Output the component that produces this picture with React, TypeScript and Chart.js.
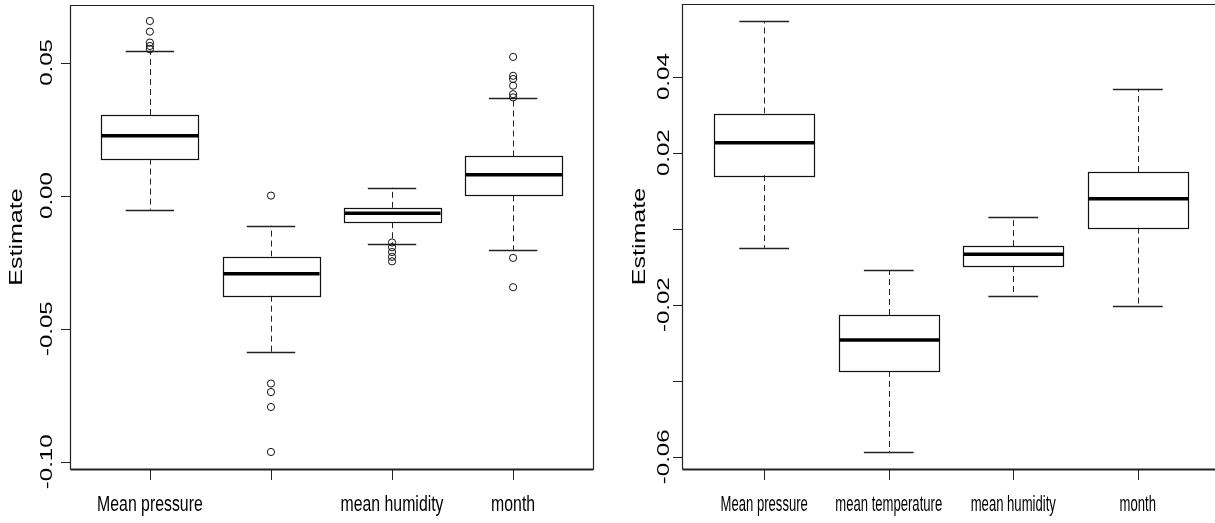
import { useEffect, useRef } from 'react';
import { Chart, registerables } from 'chart.js';
Chart.register(...registerables);

// ---------- Left panel data ----------
const leftCategories = ['Mean pressure', '', 'mean humidity', 'month'];
const leftLowerWhisker = [-0.0053, -0.0588, -0.018, -0.0205];
const leftQ1 = [0.0139, -0.0376, -0.01, 0.0001];
const leftMedian = [0.0225, -0.0294, -0.0066, 0.0078];
const leftQ3 = [0.0303, -0.0229, -0.0046, 0.0147];
const leftUpperWhisker = [0.0545, -0.0113, 0.003, 0.0365];
const leftOutlierGroup = [1, 1, 1, 1, 1, 2, 2, 2, 2, 2, 3, 3, 3, 3, 3, 4, 4, 4, 4, 4, 4, 4, 4];
const leftOutlierValue = [
  0.0656, 0.0616, 0.0575, 0.0562, 0.055,
  0.0, -0.0706, -0.0738, -0.0794, -0.0963,
  -0.0176, -0.0194, -0.0212, -0.023, -0.0247,
  0.0521, 0.045, 0.0438, 0.0413, 0.0381, 0.0369, -0.0234, -0.0344,
];
const leftYTicks = [0.05, 0.0, -0.05, -0.1];
const leftYTickLabels = ['0.05', '0.00', '-0.05', '-0.10'];

// ---------- Right panel data ----------
const rightCategories = ['Mean pressure', 'mean temperature', 'mean humidity', 'month'];
const rightLowerWhisker = [-0.005, -0.0588, -0.0177, -0.0203];
const rightQ1 = [0.0141, -0.0374, -0.0098, 0.0003];
const rightMedian = [0.0226, -0.0293, -0.0067, 0.0079];
const rightQ3 = [0.0303, -0.0227, -0.0046, 0.0149];
const rightUpperWhisker = [0.0546, -0.0109, 0.0032, 0.0368];
const rightOutlierGroup: number[] = [];
const rightOutlierValue: number[] = [];
const rightYTicks = [0.04, 0.02, 0.0, -0.02, -0.04, -0.06];
const rightYTickLabels = ['0.04', '0.02', '', '-0.02', '', '-0.06'];

const FONT = '"Liberation Sans", Arial, Helvetica, sans-serif';

type Panel = {
  categories: string[];
  lo: number[];
  q1: number[];
  med: number[];
  q3: number[];
  hi: number[];
  outG: number[];
  outV: number[];
  yTicks: number[];
  yTickLabels: string[];
  yMin: number;
  yMax: number;
  width: number;
  padding: { left: number; right: number; top: number; bottom: number };
  xLabelScale: number;
  xLabelBaseline: number;
  yLabelOffset: number;
  titleOffset: number;
  drawRight: boolean;
};

function drawText(
  ctx: CanvasRenderingContext2D,
  text: string,
  x: number,
  y: number,
  size: number,
  sx: number,
  rotate: boolean,
  baseline: CanvasTextBaseline = 'middle'
) {
  ctx.save();
  ctx.translate(x, y);
  ctx.scale(sx, 1);
  if (rotate) ctx.rotate(-Math.PI / 2);
  ctx.font = `${size}px ${FONT}`;
  ctx.fillStyle = '#000';
  ctx.textAlign = 'center';
  ctx.textBaseline = baseline;
  ctx.fillText(text, 0, 0);
  ctx.restore();
}

function makePlugin(p: Panel) {
  return {
    id: 'boxplotDraw',
    beforeDatasetsDraw(chart: any) {
      const ctx: CanvasRenderingContext2D = chart.ctx;
      const xs = chart.scales.x;
      const ys = chart.scales.y;
      const unit = xs.getPixelForValue(2) - xs.getPixelForValue(1);
      const halfBox = unit * 0.4;
      const halfCap = unit * 0.2;
      ctx.save();
      for (let i = 0; i < p.categories.length; i++) {
        const cx = xs.getPixelForValue(i + 1);
        const yLo = ys.getPixelForValue(p.lo[i]);
        const yQ1 = ys.getPixelForValue(p.q1[i]);
        const yMed = ys.getPixelForValue(p.med[i]);
        const yQ3 = ys.getPixelForValue(p.q3[i]);
        const yHi = ys.getPixelForValue(p.hi[i]);
        // whiskers (dashed)
        ctx.strokeStyle = '#222';
        ctx.lineWidth = 1;
        ctx.setLineDash([6, 4]);
        ctx.beginPath();
        ctx.moveTo(Math.round(cx) + 0.5, yQ3);
        ctx.lineTo(Math.round(cx) + 0.5, yHi);
        ctx.moveTo(Math.round(cx) + 0.5, yQ1);
        ctx.lineTo(Math.round(cx) + 0.5, yLo);
        ctx.stroke();
        ctx.setLineDash([]);
        // caps
        ctx.lineWidth = 1.3;
        ctx.beginPath();
        ctx.moveTo(cx - halfCap, Math.round(yHi) + 0.5);
        ctx.lineTo(cx + halfCap, Math.round(yHi) + 0.5);
        ctx.moveTo(cx - halfCap, Math.round(yLo) + 0.5);
        ctx.lineTo(cx + halfCap, Math.round(yLo) + 0.5);
        ctx.stroke();
        // box
        ctx.fillStyle = '#fff';
        ctx.fillRect(cx - halfBox, yQ3, halfBox * 2, yQ1 - yQ3);
        ctx.lineWidth = 1.2;
        ctx.strokeStyle = '#111';
        ctx.strokeRect(Math.round(cx - halfBox) + 0.5, Math.round(yQ3) + 0.5, Math.round(halfBox * 2), Math.round(yQ1 - yQ3));
        // median
        ctx.lineWidth = 3.5;
        ctx.strokeStyle = '#000';
        ctx.beginPath();
        ctx.moveTo(Math.round(cx - halfBox) + 0.5, yMed);
        ctx.lineTo(Math.round(cx + halfBox) + 0.5, yMed);
        ctx.stroke();
      }
      ctx.restore();
    },
    afterDraw(chart: any) {
      const ctx: CanvasRenderingContext2D = chart.ctx;
      const xs = chart.scales.x;
      const ys = chart.scales.y;
      const a = chart.chartArea;
      ctx.save();
      ctx.strokeStyle = '#222';
      ctx.lineWidth = 1.2;
      const L = Math.round(a.left) + 0.5;
      const R = Math.round(a.right) + 0.5;
      const T = Math.round(a.top) + 0.5;
      const B = Math.round(a.bottom) + 0.5;
      ctx.beginPath();
      ctx.moveTo(L, B);
      ctx.lineTo(L, T);
      ctx.lineTo(R, T);
      if (p.drawRight) ctx.lineTo(R, B);
      ctx.stroke();
      ctx.lineWidth = 2;
      ctx.beginPath();
      ctx.moveTo(L, B);
      ctx.lineTo(R, B);
      ctx.stroke();
      // y ticks
      ctx.lineWidth = 1;
      ctx.beginPath();
      for (const t of p.yTicks) {
        const y = Math.round(ys.getPixelForValue(t)) + 0.5;
        ctx.moveTo(a.left - 9, y);
        ctx.lineTo(a.left, y);
      }
      // x ticks
      for (let i = 0; i < p.categories.length; i++) {
        const x = Math.round(xs.getPixelForValue(i + 1)) + 0.5;
        ctx.moveTo(x, a.bottom);
        ctx.lineTo(x, a.bottom + 11);
      }
      ctx.stroke();
      ctx.restore();
      // y tick labels
      p.yTicks.forEach((t, i) => {
        const lbl = p.yTickLabels[i];
        if (!lbl) return;
        drawText(ctx, lbl, a.left - p.yLabelOffset, ys.getPixelForValue(t), 24, 0.7, true);
      });
      // x labels
      p.categories.forEach((c, i) => {
        if (!c) return;
        drawText(ctx, c, xs.getPixelForValue(i + 1), p.xLabelBaseline, 22, p.xLabelScale, false, 'alphabetic');
      });
      // axis title
      drawText(ctx, 'Estimate', a.left - p.titleOffset, (a.top + a.bottom) / 2, 25, 0.73, true);
    },
  };
}

function BoxPanel({ p }: { p: Panel }) {
  const ref = useRef<HTMLCanvasElement | null>(null);
  useEffect(() => {
    if (!ref.current) return;
    const pts = p.outG.map((g, i) => ({ x: g, y: p.outV[i] }));
    const chart = new Chart(ref.current, {
      type: 'scatter',
      data: {
        datasets: [
          {
            data: pts,
            pointStyle: 'circle',
            pointRadius: 3.6,
            pointBorderColor: '#111',
            pointBackgroundColor: 'rgba(0,0,0,0)',
            pointBorderWidth: 1,
          } as any,
        ],
      },
      options: {
        animation: false,
        responsive: false,
        maintainAspectRatio: false,
        events: [],
        layout: { padding: p.padding },
        plugins: { legend: { display: false }, tooltip: { enabled: false } },
        scales: {
          x: { type: 'linear', min: 0.34, max: 4.66, display: false },
          y: { type: 'linear', min: p.yMin, max: p.yMax, display: false },
        },
      },
      plugins: [makePlugin(p)],
    });
    return () => chart.destroy();
  }, [p]);
  return <canvas ref={ref} width={p.width} height={523} style={{ display: 'block', width: p.width, height: 523 }} />;
}

const leftPanel: Panel = {
  categories: leftCategories,
  lo: leftLowerWhisker,
  q1: leftQ1,
  med: leftMedian,
  q3: leftQ3,
  hi: leftUpperWhisker,
  outG: leftOutlierGroup,
  outV: leftOutlierValue,
  yTicks: leftYTicks,
  yTickLabels: leftYTickLabels,
  yMin: -0.1027,
  yMax: 0.0716,
  width: 600,
  padding: { left: 70, right: 7, top: 4, bottom: 54 },
  xLabelScale: 0.72,
  xLabelBaseline: 511,
  yLabelOffset: 23,
  titleOffset: 53,
  drawRight: true,
};

const rightPanel: Panel = {
  categories: rightCategories,
  lo: rightLowerWhisker,
  q1: rightQ1,
  med: rightMedian,
  q3: rightQ3,
  hi: rightUpperWhisker,
  outG: rightOutlierGroup,
  outV: rightOutlierValue,
  yTicks: rightYTicks,
  yTickLabels: rightYTickLabels,
  yMin: -0.0632,
  yMax: 0.0591,
  width: 630,
  padding: { left: 82, right: 10, top: 4, bottom: 54 },
  xLabelScale: 0.595,
  xLabelBaseline: 511,
  yLabelOffset: 18,
  titleOffset: 42,
  drawRight: true,
};

export default function App() {
  return (
    <div
      style={{
        position: 'fixed',
        left: 0,
        top: 0,
        width: 1215,
        height: 523,
        overflow: 'hidden',
        background: '#fff',
      }}
    >
      <div style={{ position: 'absolute', left: 0, top: 0 }}>
        <BoxPanel p={leftPanel} />
      </div>
      <div style={{ position: 'absolute', left: 600, top: 0 }}>
        <BoxPanel p={rightPanel} />
      </div>
    </div>
  );
}
